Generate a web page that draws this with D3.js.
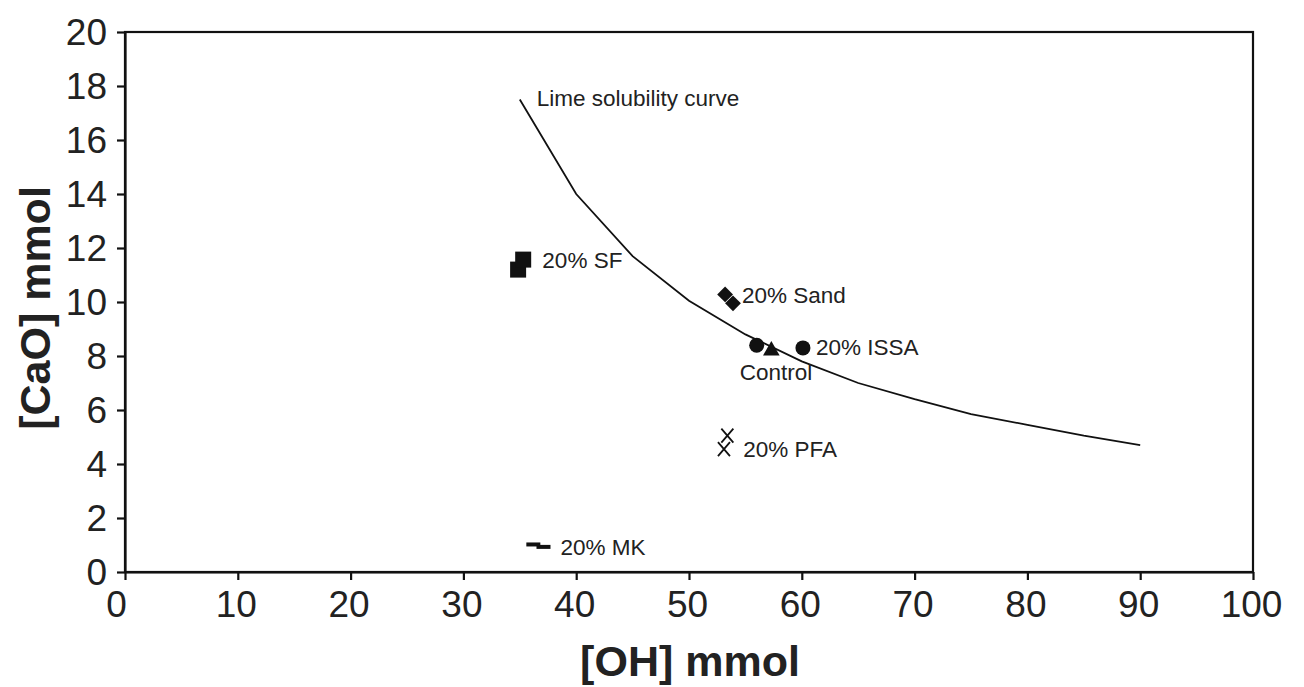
<!DOCTYPE html>
<html>
<head>
<meta charset="utf-8">
<script src="https://cdn.jsdelivr.net/npm/d3@7"></script>
<style>
  body { margin: 0; background: #fff; }
  text { font-family: "Liberation Sans", Arial, sans-serif; fill: #222; }
</style>
</head>
<body>
<svg id="chart" width="1304" height="687"></svg>
<script>
// lime solubility curve
const curveOH = [35, 40, 45, 50, 55, 60, 65, 70, 75, 80, 85, 90];
const curveCaO = [17.5, 14.0, 11.7, 10.05, 8.8, 7.8, 7.0, 6.4, 5.85, 5.45, 5.05, 4.7];

// measured points
const sfOH = [34.85, 35.3], sfCaO = [11.2, 11.57];
const sandOH = [53.2, 53.9], sandCaO = [10.28, 9.95];
const issaOH = [56.0, 60.1], issaCaO = [8.4, 8.3];
const controlOH = [57.3], controlCaO = [8.2];
const pfaOH = [53.4, 53.1], pfaCaO = [5.05, 4.55];
const mkOH = [36.2, 37.1], mkCaO = [1.02, 0.93];

const xTicks = [0, 10, 20, 30, 40, 50, 60, 70, 80, 90, 100];
const yTicks = [0, 2, 4, 6, 8, 10, 12, 14, 16, 18, 20];

const svg = d3.select("#chart");
const mLeft = 125, mRight = 1253, mTop = 32, mBottom = 572;

const x = d3.scaleLinear().domain([0, 100]).range([mLeft, mRight]);
const y = d3.scaleLinear().domain([0, 20]).range([mBottom, mTop]);

// frame
svg.append("rect")
    .attr("x", mLeft).attr("y", mTop)
    .attr("width", mRight - mLeft).attr("height", mBottom - mTop)
    .attr("fill", "none").attr("stroke", "#111").attr("stroke-width", 2.2);

const xAxis = svg.append("g")
    .attr("transform", "translate(0," + mBottom + ")")
    .call(d3.axisBottom(x).tickValues(xTicks).tickSize(8).tickPadding(11).tickSizeOuter(0));
const yAxis = svg.append("g")
    .attr("transform", "translate(" + mLeft + ",0)")
    .call(d3.axisLeft(y).tickValues(yTicks).tickSize(8).tickPadding(10).tickSizeOuter(0));

[xAxis, yAxis].forEach(function(a) {
    a.select(".domain").attr("stroke", "#111").attr("stroke-width", 2.2);
    a.selectAll(".tick line").attr("stroke", "#111").attr("stroke-width", 2.2);
    a.selectAll(".tick text")
        .attr("fill", "#222")
        .style("font-family", "Liberation Sans, Arial, sans-serif")
        .style("font-size", "37px");
});
xAxis.selectAll(".tick text").attr("dx", function(d) { return d === 0 ? -9 : -2; });
yAxis.selectAll(".tick text").attr("dy", "0.33em");

// axis titles
svg.append("text")
    .attr("x", 690).attr("y", 676)
    .attr("text-anchor", "middle")
    .style("font-size", "43px").style("font-weight", "bold")
    .text("[OH] mmol");
svg.append("text")
    .attr("transform", "translate(50,308) rotate(-90)")
    .attr("text-anchor", "middle")
    .style("font-size", "43px").style("font-weight", "bold")
    .text("[CaO] mmol");

// solubility curve
const line = d3.line()
    .x(function(d, i) { return x(curveOH[i]); })
    .y(function(d) { return y(d); });
svg.append("path")
    .attr("d", line(curveCaO))
    .attr("fill", "none").attr("stroke", "#111").attr("stroke-width", 1.8);

function pts(xs, ys) {
    return xs.map(function(v, i) { return [x(v), y(ys[i])]; });
}

// squares
svg.selectAll(".sf").data(pts(sfOH, sfCaO)).enter().append("rect")
    .attr("x", function(d) { return d[0] - 8; })
    .attr("y", function(d) { return d[1] - 8; })
    .attr("width", 16).attr("height", 16).attr("fill", "#111");

// diamonds
svg.selectAll(".sand").data(pts(sandOH, sandCaO)).enter().append("path")
    .attr("d", d3.symbol(d3.symbolSquare, 125))
    .attr("transform", function(d) { return "translate(" + d[0] + "," + d[1] + ") rotate(45)"; })
    .attr("fill", "#111");

// circles
svg.selectAll(".issa").data(pts(issaOH, issaCaO)).enter().append("circle")
    .attr("cx", function(d) { return d[0]; })
    .attr("cy", function(d) { return d[1]; })
    .attr("r", 7.5).attr("fill", "#111");

// triangle
svg.selectAll(".ctrl").data(pts(controlOH, controlCaO)).enter().append("path")
    .attr("d", d3.symbol(d3.symbolTriangle, 120))
    .attr("transform", function(d) { return "translate(" + d[0] + "," + d[1] + ")"; })
    .attr("fill", "#111");

// crosses
svg.selectAll(".pfa").data(pts(pfaOH, pfaCaO)).enter().append("path")
    .attr("d", "M-6,-7L6,7M-6,7L6,-7")
    .attr("transform", function(d) { return "translate(" + d[0] + "," + d[1] + ")"; })
    .attr("stroke", "#111").attr("stroke-width", 1.8).attr("fill", "none");

// dashes
svg.selectAll(".mk").data(pts(mkOH, mkCaO)).enter().append("rect")
    .attr("x", function(d) { return d[0] - 7; })
    .attr("y", function(d) { return d[1] - 2; })
    .attr("width", 14).attr("height", 4).attr("fill", "#111");

// labels
const labels = [
    ["Lime solubility curve", 36.5, 17.55],
    ["20% SF", 37.0, 11.55],
    ["20% Sand", 54.7, 10.25],
    ["20% ISSA", 61.25, 8.33],
    ["Control", 54.5, 7.4],
    ["20% PFA", 54.8, 4.55],
    ["20% MK", 38.6, 0.93]
];
svg.selectAll(".lbl").data(labels).enter().append("text")
    .attr("x", function(d) { return x(d[1]); })
    .attr("y", function(d) { return y(d[2]); })
    .attr("dy", "0.35em")
    .style("font-size", "22.5px")
    .text(function(d) { return d[0]; });
</script>
</body>
</html>
